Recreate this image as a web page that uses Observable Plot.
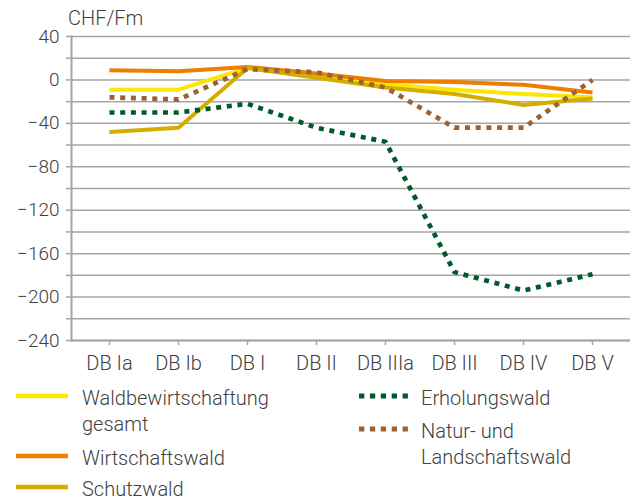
<!DOCTYPE html>
<html>
<head>
<meta charset="utf-8">
<script src="https://cdn.jsdelivr.net/npm/d3@7"></script>
<script src="https://cdn.jsdelivr.net/npm/@observablehq/plot@0.6"></script>
<style>
  html, body { margin: 0; padding: 0; background: #fff; }
  #wrap { position: relative; width: 630px; height: 500px; font-family: Roboto, "Noto Sans", sans-serif; color: #404040; font-weight: 300; }
  #ylabel { position: absolute; left: 68px; top: 6px; font-size: 20px; line-height: 24px; }
  .leg { position: absolute; font-size: 20px; line-height: 26px; white-space: pre-line; }
  .sw { position: absolute; }
  #chart { position: absolute; left: 0; top: 0; }
</style>
</head>
<body>
<div id="wrap">
  <div id="chart"></div>
  <div id="ylabel">CHF/Fm</div>
</div>
<script>
// ---- data ----
const categories = ["DB Ia", "DB Ib", "DB I", "DB II", "DB IIIa", "DB III", "DB IV", "DB V"];
const gesamt     = [-9, -9, 11, 3, -4, -9, -13, -16];
const wirtschaft = [9, 8, 12, 6, -1, -2, -4.5, -11.5];
const schutz     = [-48, -44, 11, 2, -7, -13, -23, -17];
const erholung   = [-30, -30, -22, -44, -57, -177, -194, -179];
const natur      = [-16, -18, 10, 7, -7, -44, -44, 0];
const seriesNames = ["Waldbewirtschaftung\ngesamt", "Wirtschaftswald", "Schutzwald", "Erholungswald", "Natur- und\nLandschaftswald"];
const yTicks = d3.range(-240, 41, 20);

// ---- styles ----
const styles = [
  {color: "#FFE600", dash: null},
  {color: "#EF7D00", dash: null},
  {color: "#D3AE00", dash: null},
  {color: "#005A2B", dash: "5,5.7"},
  {color: "#9B6235", dash: "5,5.7"}
];
const values = [gesamt, wirtschaft, schutz, erholung, natur];

const rows = [];
values.forEach((arr, s) => arr.forEach((v, i) => rows.push({s, cat: categories[i], v})));

const fmt = d => d < 0 ? "\u2212" + Math.abs(d) : String(d);

const lineMarks = values.map((arr, s) => Plot.line(rows.filter(r => r.s === s), {
  x: "cat", y: "v",
  stroke: styles[s].color,
  strokeWidth: styles[s].dash ? 4.7 : 4,
  strokeDasharray: styles[s].dash,
  strokeLinecap: "butt",
  strokeLinejoin: "round"
}));

const plot = Plot.plot({
  width: 630,
  height: 375,
  marginTop: 36,
  marginBottom: 35,
  marginLeft: 71,
  marginRight: 0,
  style: {fontFamily: "Roboto, sans-serif", fontSize: "19px", fontWeight: 300, background: "transparent"},
  x: {type: "point", domain: categories, padding: 0.5},
  y: {domain: [-240, 40]},
  marks: [
    Plot.gridY(yTicks, {stroke: "#A6A6A6", strokeOpacity: 1, strokeWidth: 1.5}),
    Plot.axisY(yTicks, {tickSize: 5, tickPadding: 7, stroke: "#A6A6A6", strokeWidth: 1.5, fill: "#404040",
      tickFormat: d => d % 40 === 0 ? fmt(d) : "", fontSize: 19, label: null}),
    Plot.axisX({tickSize: 5, tickPadding: 10, stroke: "#A6A6A6", strokeWidth: 1.5, fill: "#404040", fontSize: 20, label: null}),
    Plot.frame({anchor: "left", stroke: "#A6A6A6", strokeWidth: 2}),
    Plot.frame({anchor: "bottom", stroke: "#A6A6A6", strokeWidth: 2}),
    ...lineMarks
  ]
});
document.getElementById("chart").appendChild(plot);

// ---- legend ----
const wrap = document.getElementById("wrap");
const legendPos = [
  {sx: 16, sw: 52, tx: 82, cy: 396},
  {sx: 16, sw: 52, tx: 82, cy: 456},
  {sx: 16, sw: 52, tx: 82, cy: 487},
  {sx: 359, sw: 49, tx: 421, cy: 396},
  {sx: 359, sw: 49, tx: 421, cy: 429}
];
seriesNames.forEach((name, s) => {
  const p = legendPos[s];
  const svg = document.createElementNS("http://www.w3.org/2000/svg", "svg");
  svg.setAttribute("width", p.sw); svg.setAttribute("height", 10);
  svg.setAttribute("class", "sw");
  svg.style.left = p.sx + "px"; svg.style.top = (p.cy - 5) + "px";
  const ln = document.createElementNS("http://www.w3.org/2000/svg", "line");
  ln.setAttribute("x1", 0); ln.setAttribute("x2", p.sw); ln.setAttribute("y1", 5); ln.setAttribute("y2", 5);
  ln.setAttribute("stroke", styles[s].color);
  ln.setAttribute("stroke-width", styles[s].dash ? 5 : 4.5);
  if (styles[s].dash) ln.setAttribute("stroke-dasharray", "5.3,5.6");
  svg.appendChild(ln);
  wrap.appendChild(svg);
  const t = document.createElement("div");
  t.className = "leg";
  t.style.left = p.tx + "px";
  t.style.top = (p.cy - 11.5) + "px";
  t.textContent = name;
  wrap.appendChild(t);
});
</script>
</body>
</html>
